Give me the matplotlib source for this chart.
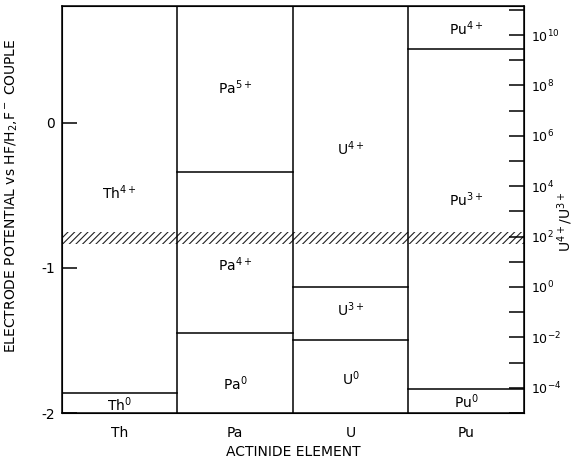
import matplotlib.pyplot as plt
import numpy as np

# actinide columns
elements = ['Th', 'Pa', 'U', 'Pu']

# stability boundaries (V vs HF/H2,F- couple) per column
boundaries = [[-1.865], [-0.338, -1.445], [-1.131, -1.499], [0.506, -1.835]]

# species labels: column index, potential at label, text
label_col = [0, 0, 1, 1, 1, 2, 2, 2, 3, 3, 3]
label_E = [-0.485, -1.94, 0.245, -0.98, -1.795, -0.175, -1.29, -1.76, 0.646, -0.533, -1.92]
label_txt = ['Th$^{4+}$', 'Th$^{0}$', 'Pa$^{5+}$', 'Pa$^{4+}$', 'Pa$^{0}$',
             'U$^{4+}$', 'U$^{3+}$', 'U$^{0}$', 'Pu$^{4+}$', 'Pu$^{3+}$', 'Pu$^{0}$']

# hatched band (U4+/U3+ ~ 10^2)
band = [-0.838, -0.752]

# right axis: log10(U4+/U3+) = (E - E0) * slope
E0 = -1.131
slope = 5.76
ylim = (-2.0, 0.805)

plt.rcParams['hatch.linewidth'] = 0.8

fig = plt.figure(figsize=(5.78, 4.61), dpi=100)
ax = fig.add_axes([0.1067, 0.104, 0.8, 0.883])

for i, b in enumerate(boundaries):
    for e in b:
        ax.plot([i, i + 1], [e, e], color='k', linewidth=1.1)
for i in range(1, len(elements)):
    ax.axvline(i, color='k', linewidth=1.1)

ax.axhspan(band[0], band[1], facecolor='none', edgecolor='#222222', hatch='/////', linewidth=0)

for c, e, t in zip(label_col, label_E, label_txt):
    ax.text(c + 0.5, e, t, ha='center', va='center', fontsize=10)

ax.set_xlim(0, len(elements))
ax.set_ylim(*ylim)
ax.set_xticks(np.arange(len(elements)) + 0.5)
ax.set_xticklabels(elements, fontsize=10)
ax.tick_params(axis='x', length=0, pad=9)
ax.set_yticks([0, -1, -2])
ax.set_yticklabels(['0', '-1', '-2'], fontsize=10)
ax.tick_params(axis='y', direction='in', length=11, width=1.1, pad=5)
ax.set_xlabel('ACTINIDE ELEMENT', fontsize=10, labelpad=4)
for s in ax.spines.values():
    s.set_linewidth(1.1)

fig.text(0.021, 0.575, 'ELECTRODE POTENTIAL vs HF/H$_2$,F$^-$ COUPLE',
         rotation=90, ha='center', va='center', fontsize=10)

ax2 = ax.twinx()
ax2.set_yscale('log')
ax2.set_ylim(10 ** ((ylim[0] - E0) * slope), 10 ** ((ylim[1] - E0) * slope))
major = [10.0 ** p for p in range(-4, 11, 2)]
minor = [10.0 ** p for p in range(-5, 12, 2)]
ax2.set_yticks(major)
ax2.set_yticklabels(['10$^{%d}$' % p for p in range(-4, 11, 2)], fontsize=9)
ax2.set_yticks(minor, minor=True)
ax2.set_yticklabels([], minor=True)
ax2.tick_params(axis='y', which='both', direction='in', length=11, width=1.1, pad=5)

fig.text(0.978, 0.52, 'U$^{4+}$/U$^{3+}$', rotation=90, ha='center', va='center', fontsize=10)

fig.savefig('out.png', dpi=100)
